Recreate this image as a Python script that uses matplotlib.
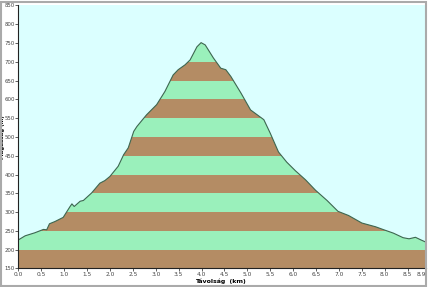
import numpy as np
import matplotlib
matplotlib.use('Agg')
import matplotlib.pyplot as plt
from matplotlib.patches import Rectangle, Polygon

# elevation profile (km, m)
dist = [0.00, 0.15, 0.36, 0.55, 0.62, 0.68, 0.80, 0.98, 1.13, 1.17, 1.22, 1.35, 1.42,
        1.60, 1.78, 1.89, 2.00, 2.18, 2.30, 2.40, 2.52, 2.59, 2.80, 3.02, 3.20, 3.38,
        3.49, 3.64, 3.75, 3.90, 3.99, 4.08, 4.26, 4.42, 4.53, 4.64, 4.86, 5.07, 5.36,
        5.50, 5.68, 5.86, 6.05, 6.27, 6.49, 6.74, 6.98, 7.21, 7.50, 7.80, 7.98, 8.19,
        8.40, 8.53, 8.67, 8.79, 8.90]
elev = [226, 237, 245, 254, 253, 269, 275, 286, 315, 322, 315, 329, 331,
        351, 377, 384, 395, 422, 453, 471, 515, 528, 559, 586, 621, 665,
        679, 692, 705, 740, 751, 745, 710, 683, 679, 661, 617, 572, 546,
        510, 460, 433, 410, 386, 358, 331, 302, 291, 271, 261, 253, 244,
        232, 229, 233, 226, 220]

yticks = list(range(150, 851, 50))
xticks = [0.0, 0.5, 1.0, 1.5, 2.0, 2.5, 3.0, 3.5, 4.0, 4.5, 5.0, 5.5, 6.0,
          6.5, 7.0, 7.5, 8.0, 8.5, 8.9]

brown = '#b48c64'
green = '#9af0bb'

fig = plt.figure(figsize=(4.28, 2.87), dpi=100)
ax = fig.add_axes([0.0428, 0.0645, 0.9525, 0.9165])
ax.set_facecolor('#dbffff')

# area under the profile, used to clip the 50 m bands
verts = list(zip(dist, elev)) + [(dist[-1], 150), (dist[0], 150)]
area = Polygon(verts, closed=True, fill=False, lw=0, transform=ax.transData)
ax.add_patch(area)
for i, lo in enumerate(range(150, 850, 50)):
    band = ax.axhspan(lo, lo + 50, color=brown if i % 2 == 0 else green, lw=0)
    band.set_clip_path(area)
ax.plot(dist, elev, color='#3d6650', lw=0.8)

ax.set_xlim(0, 8.9)
ax.set_ylim(150, 850)
ax.set_xticks(xticks)
ax.set_xticklabels([f'{t:.1f}' for t in xticks])
ax.get_xticklabels()[-1].set_ha('right')
ax.set_yticks(yticks)
ax.tick_params(labelsize=4.2, length=2, width=0.6, pad=0.8, colors='#444444')
ax.tick_params(axis='y', labelsize=3.9, pad=0.4)
for s in ['top', 'right']:
    ax.spines[s].set_visible(False)
for s in ['left', 'bottom']:
    ax.spines[s].set_color('#222222')
    ax.spines[s].set_linewidth(0.8)

ax.set_xlabel('Távolság  (km)', fontsize=4.5, fontweight='bold')
ax.set_ylabel('Magasság (m)', fontsize=4.0, fontweight='bold')
ax.xaxis.set_label_coords(0.495, -0.038)
ax.yaxis.set_label_coords(-0.032, 0.5)

fig.patches.append(Rectangle((0.002, 0.004), 0.994, 0.99, transform=fig.transFigure,
                             fill=False, edgecolor='#aaaaaa', lw=1.5))

fig.savefig('out.png', dpi=100)
